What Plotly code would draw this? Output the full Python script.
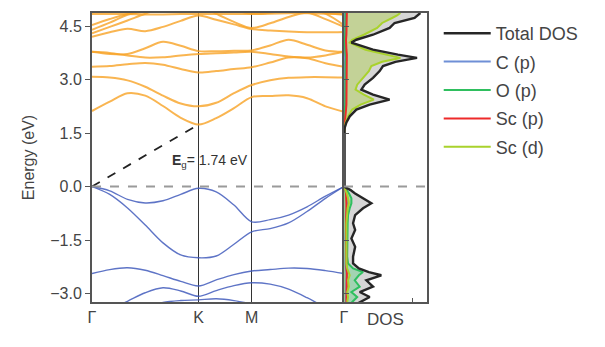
import plotly.graph_objects as go

# ---------------- band structure data ----------------
K_TICKS = [0.0, 1.0, 1.5, 2.366]
K_LABELS = ["Γ", "K", "M", "Γ"]
K_PTS = [0.0, 0.1667, 0.3333, 0.5, 0.6667, 0.8333, 1.0,
         1.1667, 1.3333, 1.5,
         1.6732, 1.8464, 2.0196, 2.1928, 2.366]

CB1 = [2.12, 2.38, 2.62, 2.55, 2.26, 1.93, 1.74, 1.92, 2.20, 2.51, 2.54, 2.56, 2.48, 2.25, 2.10]
CB2 = [3.08, 3.06, 2.98, 2.80, 2.55, 2.33, 2.25, 2.35, 2.62, 2.85, 2.98, 3.05, 3.07, 3.07, 3.06]
CB3 = [3.36, 3.38, 3.43, 3.47, 3.42, 3.30, 3.20, 3.24, 3.30, 3.35, 3.48, 3.62, 3.60, 3.46, 3.36]
CB4 = [3.78, 3.72, 3.72, 3.88, 4.06, 3.95, 3.80, 3.80, 3.81, 3.82, 3.96, 4.12, 3.98, 3.82, 3.78]
CB5 = [3.78, 3.75, 3.68, 3.62, 3.63, 3.68, 3.72, 3.74, 3.76, 3.78, 3.72, 3.65, 3.62, 3.68, 3.78]
CB6 = [4.20, 4.33, 4.43, 4.36, 4.48, 4.65, 4.80, 4.68, 4.55, 4.42, 4.38, 4.35, 4.33, 4.33, 4.34]
CB7 = [4.30, 4.48, 4.66, 4.85, 5.00, 5.05, 5.05, 4.85, 4.62, 4.45, 4.58, 4.76, 4.88, 4.70, 4.48]
CB8 = [4.40, 4.60, 4.82, 4.95, 5.10, 5.10, 5.10, 5.05, 4.95, 4.85, 4.88, 4.95, 5.00, 4.85, 4.53]
CB9 = [4.53, 4.70, 4.84, 4.90, 4.94, 4.96, 4.96, 4.96, 4.96, 4.96, 4.97, 4.98, 4.95, 4.88, 4.82]
CB10 = [4.84, 4.84, 4.84, 4.83, 4.83, 4.84, 4.84, 4.84, 4.84, 4.84, 4.85, 4.86, 4.86, 4.85, 4.84]

VB1 = [0.00, -0.12, -0.36, -0.46, -0.40, -0.22, -0.05, -0.15, -0.52, -0.99, -0.93, -0.80, -0.57, -0.27, 0.00]
VB2 = [0.00, -0.22, -0.60, -1.08, -1.58, -1.92, -2.00, -1.95, -1.62, -1.27, -1.18, -1.02, -0.70, -0.33, 0.00]
VB3 = [-2.44, -2.33, -2.28, -2.35, -2.50, -2.66, -2.79, -2.62, -2.47, -2.37, -2.33, -2.29, -2.30, -2.36, -2.44]
VB4 = [-3.60, -3.45, -3.22, -2.98, -2.84, -2.93, -3.08, -2.92, -2.78, -2.70, -2.74, -2.88, -3.12, -3.40, -3.70]
VB5 = [-3.80, -3.70, -3.55, -3.38, -3.25, -3.20, -3.18, -3.15, -3.20, -3.30, -3.45, -3.60, -3.70, -3.75, -3.80]

CONDUCTION = [CB1, CB2, CB3, CB4, CB5, CB6, CB7, CB8, CB9, CB10]
VALENCE = [VB1, VB2, VB3, VB4, VB5]
EG = 1.74

# ---------------- DOS data ----------------
E_DOS = [4.87, 4.80, 4.73, 4.59, 4.45, 4.26, 4.12, 4.04, 3.84, 3.70, 3.61, 3.50,
         3.38, 3.24, 3.05, 2.86, 2.72, 2.58, 2.44, 2.30, 2.16, 1.97, 1.80, 1.65, 1.50,
         0.00, -0.10, -0.19, -0.33, -0.47, -0.61, -0.80, -1.03, -1.22, -1.46, -1.69,
         -1.97, -2.16, -2.30, -2.40, -2.49, -2.63, -2.81, -2.96, -3.10, -3.24, -3.30]
TOTAL = [9.2, 8.9, 8.5, 6.1, 5.5, 3.5, 1.5, 0.9, 3.5, 6.5, 8.8, 6.2,
         4.7, 4.3, 3.5, 2.5, 2.1, 3.5, 5.5, 3.1, 1.5, 0.7, 0.3, 0.1, 0.0,
         0.0, 0.8, 1.3, 2.3, 3.3, 2.3, 1.35, 1.1, 1.35, 0.9, 1.35,
         1.1, 1.1, 1.8, 3.0, 4.5, 2.7, 3.5, 1.9, 3.1, 1.9, 1.5]
SC_D = [6.8, 6.4, 5.8, 4.6, 4.0, 2.4, 1.0, 0.7, 2.6, 5.0, 6.8, 4.6,
        3.3, 3.0, 2.3, 1.6, 1.4, 2.4, 3.6, 2.0, 1.0, 0.5, 0.2, 0.07, 0.0,
        0.0, 0.2, 0.35, 0.5, 0.6, 0.45, 0.35, 0.3, 0.3, 0.3, 0.3,
        0.3, 0.3, 0.4, 0.6, 0.7, 0.5, 0.6, 0.4, 0.5, 0.4, 0.35]
O_P = [0.2, 0.2, 0.2, 0.2, 0.2, 0.15, 0.1, 0.1, 0.15, 0.2, 0.25, 0.2,
       0.2, 0.2, 0.15, 0.15, 0.15, 0.2, 0.2, 0.15, 0.1, 0.05, 0.0, 0.0, 0.0,
       0.0, 0.3, 0.6, 0.9, 0.9, 0.7, 0.5, 0.45, 0.45, 0.4, 0.45,
       0.4, 0.5, 1.1, 2.3, 1.8, 1.3, 1.9, 0.9, 1.6, 1.0, 0.8]
C_P = [0.0, 0.0, 0.0, 0.0, 0.0, 0.0, 0.0, 0.0, 0.0, 0.0, 0.0, 0.0,
       0.0, 0.0, 0.0, 0.0, 0.0, 0.0, 0.0, 0.0, 0.0, 0.0, 0.0, 0.0, 0.0,
       0.0, 0.15, 0.25, 0.35, 0.4, 0.35, 0.3, 0.25, 0.25, 0.2, 0.25,
       0.2, 0.2, 0.25, 0.35, 0.35, 0.3, 0.3, 0.25, 0.3, 0.25, 0.2]
SC_P = [0.35, 0.35, 0.35, 0.3, 0.3, 0.3, 0.25, 0.25, 0.3, 0.35, 0.35, 0.3,
        0.3, 0.3, 0.3, 0.3, 0.3, 0.3, 0.3, 0.3, 0.25, 0.2, 0.15, 0.1, 0.0,
        0.0, 0.2, 0.25, 0.3, 0.3, 0.3, 0.25, 0.25, 0.25, 0.25, 0.25,
        0.25, 0.25, 0.3, 0.35, 0.35, 0.3, 0.3, 0.3, 0.3, 0.3, 0.3]
DOS_TICK = [8.2]

# ---------------- styles ----------------
ORANGE = "rgba(247,163,38,0.80)"
BLUE_BAND = "rgba(66,92,188,0.85)"
AXIS = "#555555"
TXT = "#444444"
FONT = "Liberation Sans, Arial, sans-serif"

SERIES = [
    ("Total DOS", TOTAL, "#262626", 2.4, 1),
    ("C (p)", C_P, "#6f8fd6", 2.0, 2),
    ("O (p)", O_P, "#2fbf5f", 2.0, 3),
    ("Sc (p)", SC_P, "#ee2a2a", 2.0, 4),
    ("Sc (d)", SC_D, "#a9d22c", 2.0, 5),
]

fig = go.Figure()

for band in CONDUCTION:
    fig.add_trace(go.Scatter(x=K_PTS, y=band, mode="lines", showlegend=False, hoverinfo="skip",
                             line=dict(color=ORANGE, width=2, shape="spline", smoothing=0.9)))
for band in VALENCE:
    fig.add_trace(go.Scatter(x=K_PTS, y=band, mode="lines", showlegend=False, hoverinfo="skip",
                             line=dict(color=BLUE_BAND, width=1.4, shape="spline", smoothing=0.9)))

# gap indicator
fig.add_trace(go.Scatter(x=[K_TICKS[0], K_TICKS[1]], y=[0, EG], mode="lines", showlegend=False,
                         hoverinfo="skip", line=dict(color="#222222", width=1.8, dash="dash")))

# split DOS into conduction / valence parts
parts = [[i for i, e in enumerate(E_DOS) if e > 0.75], [i for i, e in enumerate(E_DOS) if e <= 0.75]]

# fills
for vals, col in [(TOTAL, "rgba(200,200,200,0.75)"), (SC_D, "rgba(188,208,130,0.75)"),
                  (O_P, "rgba(120,210,150,0.55)")]:
    for idx in parts:
        fig.add_trace(go.Scatter(x=[vals[i] for i in idx], y=[E_DOS[i] for i in idx],
                                 xaxis="x2", yaxis="y2", mode="lines", fill="tozerox",
                                 fillcolor=col, line=dict(width=0), showlegend=False,
                                 hoverinfo="skip"))

# lines (Total drawn last, legend ordered by rank)
for name, vals, col, w, rank in SERIES[1:] + SERIES[:1]:
    for j, idx in enumerate(parts):
        fig.add_trace(go.Scatter(x=[vals[i] for i in idx], y=[E_DOS[i] for i in idx],
                                 xaxis="x2", yaxis="y2", mode="lines", name=name,
                                 legendgroup=name, legendrank=rank, showlegend=(j == 0),
                                 line=dict(color=col, width=w)))

YR = [-3.24, 4.87]
fig.update_layout(
    width=605, height=347,
    margin=dict(l=92, r=178, t=13, b=45),
    paper_bgcolor="white", plot_bgcolor="white",
    font=dict(family=FONT, color=TXT, size=14),
    xaxis=dict(domain=[0, 0.752], range=[K_TICKS[0], K_TICKS[-1]], tickvals=K_TICKS,
               ticktext=K_LABELS, ticks="", showgrid=True, gridcolor="#333333", gridwidth=1,
               zeroline=False, showline=True, linecolor=AXIS, linewidth=2, mirror=True,
               tickfont=dict(size=16, color=TXT)),
    yaxis=dict(range=YR, tickvals=[-3, -1.5, 0, 1.5, 3, 4.5],
               ticktext=["−3.0", "−1.5", "0.0", "1.5", "3.0", "4.5"],
               ticks="outside", ticklen=5, tickcolor=AXIS, showgrid=False, zeroline=False,
               showline=True, linecolor=AXIS, linewidth=2, mirror=True,
               tickfont=dict(size=16, color=TXT),
               title=dict(text="Energy (eV)", standoff=12, font=dict(size=16, color=TXT))),
    xaxis2=dict(domain=[0.752, 1.0], anchor="y2", range=[0, 10], tickvals=DOS_TICK,
                showticklabels=False, ticks="inside", ticklen=4, tickcolor=AXIS,
                showgrid=False, zeroline=False, showline=True, linecolor=AXIS, linewidth=2,
                mirror=True, title=dict(text="DOS", standoff=10, font=dict(size=17, color=TXT))),
    yaxis2=dict(anchor="x2", matches="y", range=YR, tickvals=[-3, -1.5, 1.5, 3, 4.5],
                showticklabels=False, ticks="inside", ticklen=5, tickcolor=AXIS,
                showgrid=False, zeroline=False, showline=True, linecolor=AXIS, linewidth=2,
                mirror=True),
    legend=dict(x=1.035, y=0.993, xanchor="left", yanchor="top", bgcolor="rgba(0,0,0,0)",
                font=dict(size=18, color=TXT), itemwidth=47, tracegroupgap=2,
                traceorder="grouped"),
    shapes=[dict(type="line", xref="paper", yref="y", x0=0, x1=1, y0=0, y1=0,
                 line=dict(color="#9a9a9a", width=2, dash="dash"), layer="above")],
    annotations=[dict(x=0.73, y=0.72, xref="x", yref="y", xanchor="left", yanchor="middle",
                      text=f"<b>E</b><sub>g</sub>= {EG:.2f} eV", showarrow=False,
                      font=dict(size=14, color="#333333"))],
)

fig.write_html("out.html")
